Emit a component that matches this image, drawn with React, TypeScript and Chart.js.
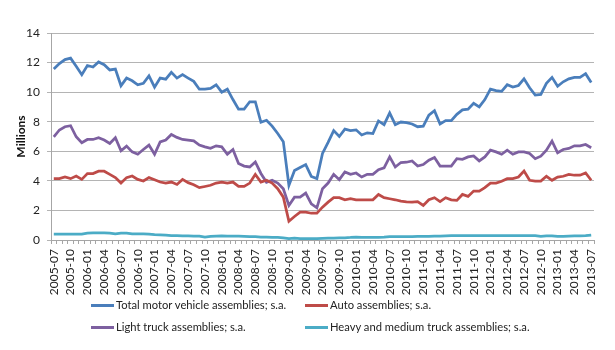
import React, { useEffect, useRef } from "react";
import { Chart, registerables } from "chart.js";

Chart.register(...registerables);

function buildMonths(): string[] {
  const out: string[] = [];
  let y = 2005;
  let m = 7;
  for (let i = 0; i < 97; i++) {
    out.push(`${y}-${m < 10 ? "0" + m : m}`);
    m++;
    if (m > 12) {
      m = 1;
      y++;
    }
  }
  return out;
}

const months: string[] = buildMonths();

const totalAssemblies: number[] = [
  11.56, 11.93, 12.2, 12.3, 11.75, 11.18, 11.8, 11.7, 12.04, 11.86, 11.5, 11.56,
  10.43, 10.95, 10.77, 10.5, 10.6, 11.1, 10.34, 10.95, 10.88, 11.34, 10.95, 11.18,
  10.95, 10.73, 10.2, 10.2, 10.25, 10.5, 10.0, 10.2, 9.5, 8.85, 8.85, 9.35,
  9.35, 7.96, 8.1, 7.7, 7.2, 6.65, 3.7, 4.7, 4.9, 5.1, 4.3, 4.15,
  5.85, 6.6, 7.4, 7.0, 7.5, 7.4, 7.45, 7.1, 7.25, 7.2, 8.05, 7.8,
  8.6, 7.8, 7.98, 7.94, 7.85, 7.66, 7.7, 8.45, 8.75, 7.85, 8.07, 8.07,
  8.5, 8.8, 8.85, 9.25, 9.0, 9.5, 10.2, 10.1, 10.05, 10.5, 10.35, 10.45,
  10.9, 10.3, 9.8, 9.85, 10.6, 11.0, 10.4, 10.7, 10.9, 11.0, 11.0, 11.25,
  10.65,
];

const autoAssemblies: number[] = [
  4.15, 4.15, 4.26, 4.15, 4.33, 4.1, 4.49, 4.49, 4.65, 4.65, 4.44, 4.22,
  3.85, 4.22, 4.33, 4.1, 3.99, 4.22, 4.08, 3.92, 3.85, 3.92, 3.76, 4.1,
  3.88, 3.74, 3.54, 3.62, 3.7, 3.85, 3.92, 3.85, 3.92, 3.63, 3.63, 3.85,
  4.44, 3.92, 4.04, 3.85, 3.47, 2.9, 1.27, 1.59, 1.88, 1.88, 1.81, 1.81,
  2.22, 2.56, 2.86, 2.86, 2.72, 2.79, 2.72, 2.72, 2.72, 2.72, 3.08, 2.86,
  2.79, 2.72, 2.63, 2.58, 2.56, 2.6, 2.34, 2.72, 2.86, 2.6, 2.86, 2.72,
  2.68, 3.08, 2.95, 3.31, 3.31, 3.54, 3.85, 3.85, 3.97, 4.15, 4.15, 4.26,
  4.67, 4.04, 3.99, 3.99, 4.31, 4.04, 4.26, 4.31, 4.44, 4.38, 4.38, 4.53,
  4.04,
];

const lightTruckAssemblies: number[] = [
  6.98, 7.44, 7.66, 7.73, 6.98, 6.58, 6.8, 6.8, 6.92, 6.76, 6.53, 6.92,
  6.03, 6.35, 5.96, 5.8, 6.12, 6.42, 5.8, 6.64, 6.76, 7.14, 6.94, 6.8,
  6.76, 6.71, 6.42, 6.3, 6.2, 6.37, 6.3, 5.8, 6.12, 5.17, 5.0, 4.94,
  5.28, 4.5, 3.9, 4.04, 3.85, 3.47, 2.34, 2.9, 2.9, 3.17, 2.45, 2.18,
  3.47, 3.85, 4.44, 4.08, 4.6, 4.44, 4.53, 4.26, 4.44, 4.44, 4.76, 4.88,
  5.62, 4.94, 5.24, 5.26, 5.35, 5.0, 5.1, 5.4, 5.58, 5.0, 5.0, 5.0,
  5.5, 5.46, 5.62, 5.69, 5.35, 5.62, 6.08, 5.96, 5.8, 6.08, 5.8, 5.96,
  5.96, 5.85, 5.5, 5.67, 6.08, 6.69, 5.9, 6.12, 6.19, 6.37, 6.37, 6.46,
  6.24,
];

const heavyTruckAssemblies: number[] = [
  0.4, 0.4, 0.4, 0.4, 0.4, 0.4, 0.47, 0.48, 0.48, 0.48, 0.47, 0.42,
  0.47, 0.46, 0.42, 0.41, 0.41, 0.4, 0.36, 0.35, 0.33, 0.3, 0.29, 0.28,
  0.28, 0.27, 0.26, 0.2, 0.25, 0.27, 0.28, 0.27, 0.26, 0.26, 0.25, 0.23,
  0.22, 0.2, 0.2, 0.18, 0.17, 0.15, 0.1, 0.12, 0.1, 0.1, 0.1, 0.1,
  0.11, 0.12, 0.13, 0.14, 0.15, 0.17, 0.2, 0.17, 0.17, 0.18, 0.18, 0.19,
  0.22, 0.22, 0.23, 0.23, 0.23, 0.24, 0.24, 0.25, 0.26, 0.27, 0.28, 0.29,
  0.29, 0.29, 0.3, 0.3, 0.3, 0.3, 0.3, 0.3, 0.3, 0.3, 0.3, 0.3,
  0.3, 0.3, 0.29, 0.25, 0.28, 0.28, 0.24, 0.24, 0.27, 0.28, 0.28, 0.29,
  0.33,
];

const seriesNames: string[] = [
  "Total motor vehicle assemblies; s.a.",
  "Auto assemblies; s.a.",
  "Light truck assemblies; s.a.",
  "Heavy and medium truck assemblies; s.a.",
];

const seriesColors: string[] = ["#4a7ebb", "#be4b48", "#7d60a0", "#4bacc6"];

const yTicks: number[] = [0, 2, 4, 6, 8, 10, 12, 14];

const FONT = "Lato, 'Open Sans', sans-serif";

export default function App() {
  const canvasRef = useRef<HTMLCanvasElement | null>(null);

  useEffect(() => {
    if (!canvasRef.current) return;
    const seriesData = [totalAssemblies, autoAssemblies, lightTruckAssemblies, heavyTruckAssemblies];
    const chart = new Chart(canvasRef.current, {
      type: "line",
      data: {
        labels: months,
        datasets: seriesData.map((d, i) => ({
          label: seriesNames[i],
          data: d,
          borderColor: seriesColors[i],
          backgroundColor: seriesColors[i],
          borderWidth: 2.75,
          pointRadius: 0,
          tension: 0,
          fill: false,
        })),
      },
      options: {
        animation: false,
        responsive: false,
        maintainAspectRatio: false,
        layout: { padding: { left: 10, right: 21, top: 33, bottom: 0 } },
        plugins: {
          legend: { display: false },
          tooltip: { enabled: false },
        },
        scales: {
          x: {
            type: "category",
            offset: true,
            grid: {
              offset: true,
              drawOnChartArea: false,
              drawTicks: true,
              tickLength: 4,
              color: "#a6a6a6",
            },
            border: { color: "#a6a6a6", width: 1 },
            ticks: {
              autoSkip: false,
              maxRotation: 90,
              minRotation: 90,
              padding: 5,
              color: "#222",
              font: { family: FONT, size: 12 },
              callback: (_v: any, i: number) => (i % 3 === 0 ? months[i] : ""),
            },
            afterFit: (scale: any) => {
              scale.height = 110;
            },
          },
          y: {
            min: 0,
            max: 14,
            afterBuildTicks: (scale: any) => {
              scale.ticks = yTicks.map((v) => ({ value: v }));
            },
            grid: {
              color: "#b4b4b4",
              lineWidth: 1,
              tickLength: 4,
            },
            border: { color: "#a6a6a6", width: 1 },
            ticks: {
              padding: 7,
              color: "#222",
              font: { family: FONT, size: 12 },
            },
            title: {
              display: true,
              text: "Millions",
              color: "#111",
              font: { family: FONT, size: 12, weight: "bold" },
              padding: { top: 4, bottom: 0 },
            },
            afterFit: (scale: any) => {
              scale.width = 41;
            },
          },
        },
      },
    });
    return () => chart.destroy();
  }, []);

  const legendItem = (i: number) => (
    <div style={{ display: "flex", alignItems: "center", whiteSpace: "nowrap" }}>
      <span
        style={{
          display: "inline-block",
          width: 23,
          height: 3,
          background: seriesColors[i],
          marginRight: 2,
        }}
      />
      <span>{seriesNames[i]}</span>
    </div>
  );

  return (
    <div style={{ position: "fixed", left: 0, top: 0, width: 615, height: 350, background: "#fff" }}>
      <canvas ref={canvasRef} width={615} height={350} style={{ position: "absolute", left: 0, top: 0 }} />
      <div
        style={{
          position: "absolute",
          left: 91,
          top: 297,
          display: "grid",
          gridTemplateColumns: "214px auto",
          rowGap: 6,
          fontFamily: FONT,
          fontSize: 11.2,
          color: "#222",
          lineHeight: "16px",
        }}
      >
        {legendItem(0)}
        {legendItem(1)}
        {legendItem(2)}
        {legendItem(3)}
      </div>
    </div>
  );
}
